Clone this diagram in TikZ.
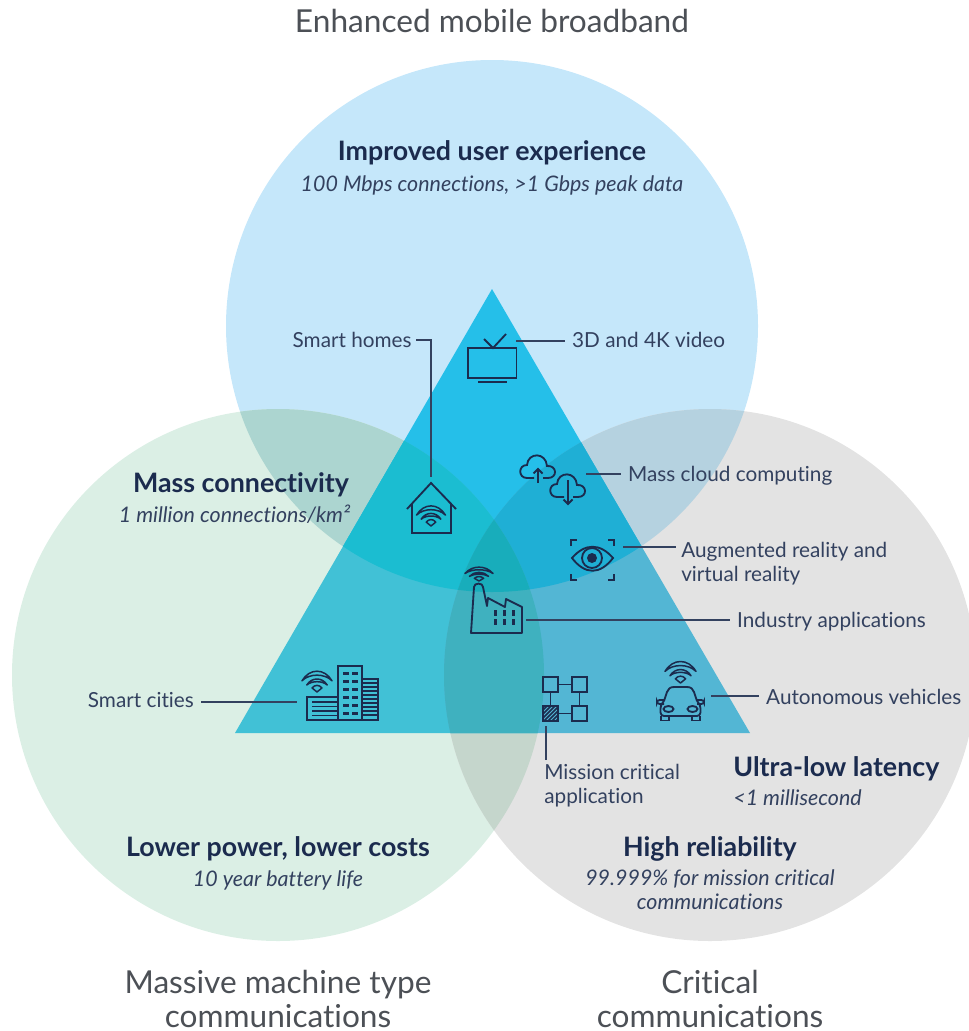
\documentclass[tikz,border=0pt]{standalone}
\usepackage{fontspec}
\setmainfont[Ligatures=NoCommon]{Lato}
\usepackage{tikz}

\definecolor{navy}{HTML}{1B2B4E}
\definecolor{labelink}{HTML}{33415F}
\definecolor{titleink}{HTML}{4C5056}

% circle colours
\definecolor{cblue}{HTML}{C5E7FA}
\definecolor{cgreen}{HTML}{DBEFE5}
\definecolor{cgrey}{HTML}{E3E3E3}
\definecolor{cbluegreen}{HTML}{ACD5D0}
\definecolor{cbluegrey}{HTML}{B5D2E0}
\definecolor{cgreengrey}{HTML}{C5D6CC}
\definecolor{call}{HTML}{A0C4C4}
% the same parts inside the triangle
\definecolor{tblue}{HTML}{25BFE9}
\definecolor{tgreen}{HTML}{41C1D6}
\definecolor{tgrey}{HTML}{53B6D4}
\definecolor{tbluegreen}{HTML}{1BBDD1}
\definecolor{tbluegrey}{HTML}{1FAFD5}
\definecolor{tgreengrey}{HTML}{3FB1BF}
\definecolor{tall}{HTML}{18ADBB}

\newcommand{\bluedisc}{(492,326) circle (266)}
\newcommand{\greendisc}{(278,675) circle (266)}
\newcommand{\greydisc}{(710,675) circle (266)}
\newcommand{\vennparts}[7]{
\fill[#1] \bluedisc;
\fill[#2] \greendisc;
\fill[#3] \greydisc;
\begin{scope}\clip \bluedisc; \fill[#4] \greendisc; \fill[#5] \greydisc;\end{scope}
\begin{scope}\clip \greendisc; \fill[#6] \greydisc;
\clip \bluedisc; \fill[#7] \greydisc;\end{scope}
}
% wifi sign, given by the point of its wedge, half its width and its height unit
\newcommand{\wifisign}[4]{
\begin{scope}[shift={(#1,#2)},xscale=#3,yscale=#4,line join=round]
\draw[wifiline] (-1,-0.75) .. controls (-0.5,-1.6) and (0.5,-1.6) .. (1,-0.75) .. controls (0.5,-1.25) and (-0.5,-1.25) .. (-1,-0.75) -- cycle;
\draw[wifiline] (-0.68,-0.47) .. controls (-0.35,-1) and (0.35,-1) .. (0.68,-0.47) .. controls (0.35,-0.76) and (-0.35,-0.76) .. (-0.68,-0.47) -- cycle;
\draw[wifiline] (0,0) -- (-0.33,-0.27) .. controls (-0.15,-0.5) and (0.15,-0.5) .. (0.33,-0.27) -- cycle;
\end{scope}
}
\newcommand{\cloudsign}[2]{
\draw[icon] (#1-4,#2+11) -- (#1-11,#2+11) .. controls (#1-20,#2+11) and (#1-20,#2-2) .. (#1-11,#2-2)
 .. controls (#1-10,#2-15) and (#1+8,#2-15) .. (#1+9,#2-1)
 .. controls (#1+19,#2-2) and (#1+20,#2+11) .. (#1+10,#2+11) -- (#1+5,#2+11);
}

\tikzset{
icon/.style={draw=navy,line width=1.05pt},
wifiline/.style={draw=navy,line width=0.85pt},
leader/.style={draw=labelink,line width=0.65pt},
outertitle/.style={text=titleink,align=center,inner sep=0pt,font=\fontsize{18}{19.4}\selectfont},
headline/.style={text=navy,inner sep=0pt,font=\bfseries\fontsize{15.25}{17}\selectfont},
subline/.style={text=labelink,inner sep=0pt,align=center,font=\itshape\fontsize{12.2}{13.6}\selectfont},
itemlabel/.style={text=labelink,inner xsep=3.9pt,inner ysep=2pt,align=left,font=\fontsize{11.8}{13.6}\selectfont}
}

\begin{document}
\begin{tikzpicture}[x=0.02cm,y=-0.02cm]
\clip (0,0) rectangle (969,1031);

\vennparts{cblue}{cgreen}{cgrey}{cbluegreen}{cbluegrey}{cgreengrey}{call}
\begin{scope}
\clip (492,289) -- (750,733) -- (235,733) -- cycle;
\vennparts{tblue}{tgreen}{tgrey}{tbluegreen}{tbluegrey}{tgreengrey}{tall}
\end{scope}

% titles
\node[outertitle] (broadbandtitle) at (492,21) {Enhanced mobile broadband};
\node[outertitle] (machinetitle) at (278,999) {Massive machine type\\communications};
\node[outertitle] (criticaltitle) at (710,999) {Critical\\communications};

\node[headline] (experiencehead) at (492,153) {Improved user experience};
\node[subline] (experiencesub) at (492,185) {100 Mbps connections, >1 Gbps peak data};
\node[headline] (connectivityhead) at (241,485) {Mass connectivity};
\node[subline] (connectivitysub) at (234.5,514) {1 million connections/km²};
\node[headline] (powerhead) at (278,849) {Lower power, lower costs};
\node[subline] (powersub) at (278,880) {10 year battery life};
\node[headline,anchor=west] (latencyhead) at (733,769) {Ultra-low latency};
\node[subline,anchor=west] (latencysub) at (733,798) {<1 millisecond};
\node[headline] (reliabilityhead) at (710,849) {High reliability};
\node[subline] (reliabilitysub) at (710,890) {99.999\% for mission critical\\communications};

% item labels
\node[itemlabel,anchor=east,inner xsep=2.3pt] (homeslabel) at (416,340) {Smart homes};
\node[itemlabel,anchor=west] (videolabel) at (565,340) {3D and 4K video};
\node[itemlabel,anchor=west] (cloudlabel) at (621,476) {Mass cloud computing};
\node[itemlabel,anchor=west,inner xsep=2.8pt] (arlabel) at (676,564) {Augmented reality and\\virtual reality};
\node[itemlabel,anchor=west] (industrylabel) at (730,622) {Industry applications};
\node[itemlabel,anchor=west] (vehiclelabel) at (759,697) {Autonomous vehicles};
\node[itemlabel,anchor=east] (citieslabel) at (201,700) {Smart cities};
\node[itemlabel,anchor=north west,inner xsep=0pt] (missionlabel) at (544,760) {Mission critical\\application};

% tv
\coordinate (tvicon) at (516,341);
\draw[icon] (468,348) rectangle (516.5,378);
\draw[icon] (478,382) -- (507,382);
\draw[icon] (484,339) -- (493,348) -- (506,334);
\draw[leader] (tvicon) -- (tvicon -| videolabel.west);

% house
\coordinate (houseicon) at (431,477);
\draw[icon] (407,509) -- (431,483) -- (456,509);
\draw[icon] (412,504) -- (412,533) -- (451,533) -- (451,504);
\wifisign{431}{526}{14.5}{14.5}
\draw[leader] (homeslabel.east) -| (houseicon);

% clouds
\coordinate (cloudicon) at (586,474);
\cloudsign{538}{467}
\cloudsign{568}{486}
\draw[icon] (538,483) -- (538,469);
\draw[icon] (533.5,473.5) -- (538,469) -- (542.5,473.5);
\draw[icon] (568,480) -- (568,504);
\draw[icon] (563.5,499.5) -- (568,504) -- (572.5,499.5);
\draw[leader] (cloudicon) -- (cloudicon -| cloudlabel.west);

% eye
\coordinate (eyeicon) at (623,547);
\draw[icon] (572,558) .. controls (585,543) and (600,543) .. (613,558) .. controls (600,575) and (585,575) .. (572,558) -- cycle;
\draw[icon] (592,558) circle (10);
\fill[navy] (592,558) circle (5);
\draw[icon] (571,546) -- (571,540) -- (577,540);
\draw[icon] (608,540) -- (614,540) -- (614,546);
\draw[icon] (571,574) -- (571,580) -- (577,580);
\draw[icon] (608,580) -- (614,580) -- (614,574);
\draw[leader] (eyeicon) -- (eyeicon -| arlabel.west);

% factory
\coordinate (factoryicon) at (526,620);
\wifisign{479}{581}{14}{10}
\draw[icon,line join=round] (471,633) -- (474,587) .. controls (474,582.5) and (483,582.5) .. (483,587) -- (487,606) -- (488,598) -- (505,607) -- (506,599) -- (522,607) -- (522,633) -- cycle;
\foreach \xw in {495,504,513}
 \foreach \yw in {613,622}
  \fill[navy] (\xw-1.5,\yw-3) rectangle (\xw+1.5,\yw+3);
\draw[leader] (factoryicon) -- (factoryicon -| industrylabel.west);

% mission critical network
\coordinate (missionicon) at (546,726);
\draw[icon] (543,677) rectangle (558,692);
\draw[icon] (572,677) rectangle (587,692);
\draw[icon] (572,706) rectangle (587,721);
\draw[icon] (558,684.5) -- (572,684.5);
\draw[icon] (558,713.5) -- (572,713.5);
\draw[icon] (550.5,692) -- (550.5,706);
\draw[icon] (579.5,692) -- (579.5,706);
\begin{scope}
\clip (543,706) rectangle (558,721);
\foreach \hatch in {-15,-11,...,17}
 \draw[navy,line width=0.9pt] (543+\hatch,721) -- (543+\hatch+15,706);
\end{scope}
\draw[icon] (543,706) rectangle (558,721);
\draw[leader] (missionicon) -- (missionicon |- missionlabel.north);

% car
\coordinate (caricon) at (711,696);
\wifisign{680.5}{683}{15.5}{15.5}
\draw[icon,line join=round] (664,701) -- (667,692) .. controls (668,689) and (670,687) .. (674,687) -- (687,687) .. controls (691,687) and (693,689) .. (694,692) -- (697,701);
\draw[icon,line join=round,rounded corners=2pt] (664,701) -- (660.5,705) -- (660.5,716) -- (700.5,716) -- (700.5,705) -- (697,701);
\draw[icon,rounded corners=1.5pt] (664,704) -- (657,704) -- (657,700) -- (664,700);
\draw[icon,rounded corners=1.5pt] (697,704) -- (704,704) -- (704,700) -- (697,700);
\draw[icon] (668.5,709) ellipse (5 and 3);
\draw[icon] (692.5,709) ellipse (5 and 3);
\draw[icon] (661,716) -- (661,720.5) -- (669,720.5) -- (669,716);
\draw[icon] (692,716) -- (692,720.5) -- (700,720.5) -- (700,716);
\draw[leader] (caricon) -- (caricon -| vehiclelabel.west);

% buildings
\coordinate (cityicon) at (297,702);
\wifisign{317}{692}{15}{15}
\draw[icon] (338,666) rectangle (362,720);
\draw[icon] (362,679) rectangle (378,720);
\draw[icon] (307,697) rectangle (338,720);
\foreach \yw in {673,681,689,697,705,713} {
 \fill[navy] (343,\yw-1.5) rectangle (349,\yw+1.5);
 \fill[navy] (352,\yw-1.5) rectangle (358,\yw+1.5);
}
\foreach \yw in {683,687,...,716}
 \draw[navy,line width=0.7pt] (362,\yw) -- (378,\yw);
\foreach \yw in {702,706.5,711,715.5}
 \draw[navy,line width=0.9pt] (312,\yw) -- (338,\yw);
\draw[leader] (citieslabel.east |- cityicon) -- (cityicon);

\end{tikzpicture}
\end{document}
